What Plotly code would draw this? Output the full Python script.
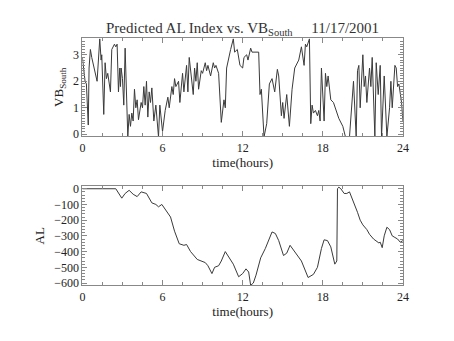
import plotly.graph_objects as go

# Solar-wind VB_south (mV/m) samples: time in hours, value
vb_time = [0.0, 0.1, 0.2, 0.3, 0.44, 0.5, 0.55, 0.6, 0.7, 0.8, 0.95, 1.1, 1.3, 1.35, 1.4, 1.45, 1.6, 1.7, 1.8,
           1.9, 2.1, 2.2, 2.4, 2.5, 2.6, 2.7, 2.8, 2.85, 2.9, 3.0, 3.1, 3.2, 3.3, 3.4, 3.5, 3.6, 3.7, 3.8,
           3.9, 4.0, 4.1, 4.2, 4.4, 4.5, 4.6, 4.7, 4.8, 4.9, 5.0, 5.1, 5.2, 5.35, 5.5, 5.7, 5.8, 5.9,
           6.0, 6.2, 6.4, 6.5, 6.7, 6.8, 6.9, 7.0, 7.2, 7.3, 7.5, 7.6, 7.8, 7.9, 8.0, 8.3, 8.4, 8.5,
           8.6, 8.7, 8.9, 9.0, 9.2, 9.3, 9.4, 9.6, 9.8, 9.9, 10.0, 10.2, 10.4, 10.6, 10.7, 10.8, 11.0,
           11.1, 11.3, 11.4, 11.6, 11.8, 12.0, 12.1, 12.3, 12.4, 12.6, 12.7, 13.2, 13.3, 13.4, 13.5,
           13.6, 13.8, 14.0, 14.2, 14.4, 14.6, 14.7, 14.9, 15.0, 15.1, 15.3, 15.5, 15.7, 15.9, 16.0,
           16.2, 16.4, 16.6, 16.7, 16.8, 17.0, 17.1, 17.2, 17.3, 17.45, 17.6, 17.7, 17.8, 17.9, 18.1,
           18.2, 18.3, 18.4, 18.6, 18.8, 19.0, 19.2, 19.5, 19.7, 20.0, 20.2, 20.3, 20.5, 20.6, 20.7,
           20.8, 21.0, 21.1, 21.2, 21.3, 21.5, 21.6, 21.7, 21.9, 22.0, 22.15, 22.3, 22.4, 22.6, 22.8,
           23.0, 23.1, 23.2, 23.3, 23.4, 23.5, 23.6, 23.7, 23.9, 24.0]
vb_south = [2.9, 2.4, 2.0, 1.9, 0.35, 2.5, 2.8, 3.2, 2.9, 2.7, 2.4, 2.0, 3.6, 3.3, 2.8, 3.0, 0.75, 2.7, 2.1,
            2.3, 1.6, 3.2, 3.4, 3.3, 3.4, 1.6, 2.5, 1.8, 2.5, 2.1, 1.1, 3.25, 1.9, -0.1, 0.75, 0.3, 0.8,
            0.5, 1.7, 1.0, 1.3, 0.55, 1.2, 1.0, 1.8, 1.1, 2.0, 0.65, 1.6, 1.2, 1.75, 0.5, 1.1, -0.1, 1.1,
            0.7, 0.1, 0.9, 1.4, 1.0, 1.8, 1.5, 2.1, 1.8, 2.0, 1.2, 2.3, 1.6, 2.6, 1.6, 2.9, 1.5, 2.5,
            2.0, 2.7, 1.7, 2.4, 2.3, 2.7, 2.4, 2.6, 2.2, 2.7, 2.5, 2.6, 2.3, 0.45, 1.3, 1.0, 2.5, 3.0,
            3.2, 3.6, 3.1, 3.2, 2.6, 2.5, 2.9, 3.0, 2.8, 3.25, 3.1, 3.1, 1.5, 1.7, 0.8, -0.1, 0.4, 1.9,
            2.1, 1.6, 2.45, 2.2, 0.7, 1.2, 0.6, 1.5, 0.3, 1.7, 2.5, 2.6, 2.8, 3.3, 2.6, 3.4, 3.3, 3.6,
            0.4, 1.1, 0.8, 0.9, 0.7, 0.9, 0.5, 2.5, 0.5, 2.3, 1.8, 2.2, 1.3, 1.2, 0.9, 0.6, 0.3, -0.1,
            -0.1, 1.3, 2.0, -0.1, 2.4, 2.6, 1.0, 3.0, 1.8, 2.2, 1.2, 2.5, 1.8, 2.9, -0.1, 2.7, 1.5, 2.6,
            -0.1, 2.2, -0.1, 1.0, 2.0, 1.0, 2.0, 2.6, 2.5, 1.8, 1.9, 1.2, 0.5]

# Predicted AL index (nT)
al_time = [0.0, 2.5, 2.95, 3.2, 3.5, 3.8, 4.1, 4.4, 4.8, 5.2, 5.5, 5.7, 5.95, 6.25, 6.6, 6.9, 7.25,
           7.6, 7.8, 8.1, 8.6, 9.2, 9.4, 9.7, 9.9, 10.2, 10.4, 10.7, 11.0, 11.3, 11.7, 12.0, 12.25,
           12.45, 12.6, 12.8, 13.0, 13.35, 13.7, 14.0, 14.2, 14.45, 14.7, 15.06, 15.3, 15.55, 15.8,
           16.1, 16.4, 16.9, 17.3, 17.6, 17.9, 18.1, 18.35, 18.6, 18.9, 19.05, 19.1, 19.2, 19.35,
           19.6, 19.8, 20.0, 20.2, 20.4, 20.6, 20.8, 21.0, 21.3, 21.5, 21.8, 22.0, 22.2, 22.3, 22.45,
           22.6, 22.8, 23.0, 23.2, 23.4, 23.6, 23.8, 24.0]
al_index = [0, 0, -60, -30, -10, -35, -50, -20, -30, -90, -100, -115, -100, -140, -180, -270, -350,
            -360, -355, -400, -450, -470, -490, -540, -500, -490, -460, -400, -440, -480, -560, -540,
            -510, -530, -615, -600, -550, -440, -380, -310, -275, -285, -330, -425, -410, -360, -390,
            -420, -460, -565, -545, -500, -380, -325, -330, -370, -480, -460, 0, 10, 0, -30, -30, -20,
            -60, -100, -150, -200, -230, -260, -290, -320, -330, -345, -340, -375, -300, -245, -260,
            -300, -310, -320, -340, -330]

x_ticks = [0, 6, 12, 18, 24]
vb_ticks = [0, 1, 2, 3]
al_ticks = [0, -100, -200, -300, -400, -500, -600]
al_tick_text = ["0", "\u2212100", "\u2212200", "\u2212300", "\u2212400", "\u2212500", "\u2212600"]

FONT = "Liberation Serif"
INK = "#3a3a3a"
AXIS = "#888"
TEXT = "#222"

fig = go.Figure()
fig.add_trace(go.Scatter(x=vb_time, y=vb_south, mode="lines", xaxis="x", yaxis="y",
                         line=dict(color=INK, width=1), showlegend=False))
fig.add_trace(go.Scatter(x=al_time, y=al_index, mode="lines", xaxis="x2", yaxis="y2",
                         line=dict(color=INK, width=1), showlegend=False))

xdom = [81 / 454, 408 / 454]
common_x = dict(range=[0, 24], tickvals=x_ticks, ticks="inside", ticklen=5, tickcolor=AXIS,
                showline=True, linecolor=AXIS, linewidth=1, mirror="allticks",
                showgrid=False, zeroline=False, domain=xdom,
                tickfont=dict(family=FONT, size=12, color=TEXT),
                minor=dict(dtick=1.5, ticks="inside", ticklen=3, tickcolor=AXIS),
                title=dict(text="time(hours)", font=dict(family=FONT, size=13, color=TEXT), standoff=0))
common_y = dict(ticks="inside", ticklen=5, tickcolor=AXIS, showline=True, linecolor=AXIS,
                linewidth=1, mirror="allticks", showgrid=False, zeroline=False,
                tickfont=dict(family=FONT, size=12, color=TEXT))

fig.update_layout(
    width=454, height=341, autosize=False,
    margin=dict(l=0, r=0, t=0, b=0),
    paper_bgcolor="white", plot_bgcolor="white",
    xaxis=dict(**common_x, anchor="y"),
    xaxis2=dict(**common_x, anchor="y2"),
    yaxis=dict(**common_y, domain=[1 - 136 / 341, 1 - 35 / 341], anchor="x",
               range=[-0.08, 3.63], tickvals=vb_ticks,
               minor=dict(dtick=0.1, ticks="inside", ticklen=3, tickcolor=AXIS),
               title=dict(text="VB<sub>South</sub>", font=dict(family=FONT, size=13, color=TEXT), standoff=6)),
    yaxis2=dict(**common_y, domain=[1 - 289 / 341, 1 - 187 / 341], anchor="x2",
                range=[-615, 17], tickvals=al_ticks, ticktext=al_tick_text,
                minor=dict(dtick=20, ticks="inside", ticklen=3, tickcolor=AXIS),
                title=dict(text="AL", font=dict(family=FONT, size=13, color=TEXT), standoff=6)),
    annotations=[dict(text="Predicted AL Index vs. VB<sub>South</sub>\u00a0\u00a0\u00a0\u00a0\u00a011/17/2001",
                      xref="paper", yref="paper", x=(81 + 408) / 2 / 454, y=1 - 26 / 341,
                      xanchor="center", yanchor="middle", showarrow=False,
                      font=dict(family=FONT, size=15, color="#333"))],
)

fig.write_html("out.html")
